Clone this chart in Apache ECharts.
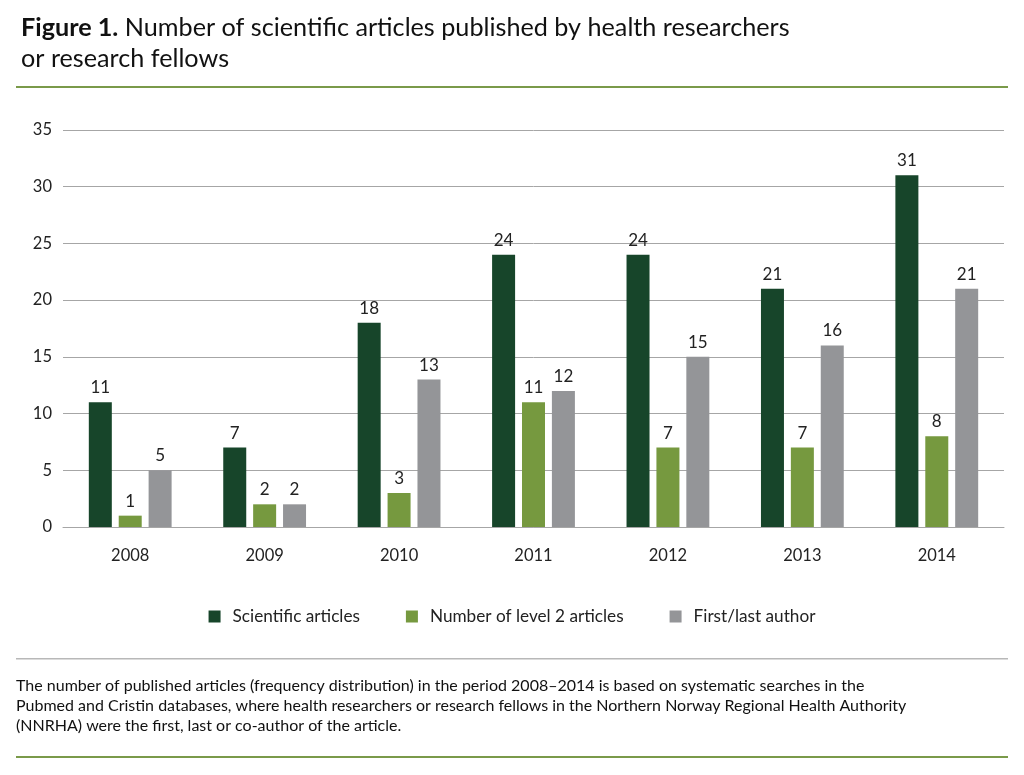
<!DOCTYPE html>
<html><head><meta charset="utf-8">
<script src="https://cdn.jsdelivr.net/npm/echarts@6/dist/echarts.min.js"></script>
<style>html,body{margin:0;padding:0;background:#fff}#c{width:1024px;height:775px}</style>
</head><body><div id="c"></div>
<script>
const categories = ['2008','2009','2010','2011','2012','2013','2014'];
const scientificArticles = [11, 7, 18, 24, 24, 21, 31];
const level2Articles = [1, 2, 3, 11, 7, 7, 8];
const firstLastAuthor = [5, 2, 13, 12, 15, 16, 21];
const seriesNames = ['Scientific articles', 'Number of level 2 articles', 'First/last author'];
const colors = ['#17452a', '#76993f', '#949598'];
const FONT = 'Lato';

const chart = echarts.init(document.getElementById('c'));
const mk = (name, data, color) => ({
  name, type: 'bar', data, barWidth: 23, barGap: '30%',
  itemStyle: { color },
  label: { show: true, position: 'top', distance: 6, color: '#222', fontSize: 17, fontFamily: FONT }
});
chart.setOption({
  animation: false,
  textStyle: { fontFamily: FONT },
  title: {
    left: 16, top: 7,
    text: '{b|Figure 1.} Number of scientific articles published by health researchers\nor research fellows',
    textStyle: {
      fontFamily: FONT, fontSize: 25.2, fontWeight: 'normal', color: '#111', lineHeight: 31,
      rich: { b: { fontFamily: FONT, fontSize: 25.2, fontWeight: 'bold', color: '#111' } }
    }
  },
  grid: { left: 63, right: 20, top: 130, bottom: 248, containLabel: false },
  xAxis: {
    type: 'category', data: categories,
    axisLine: { lineStyle: { color: '#a6a6a6' } }, axisTick: { show: false },
    axisLabel: { color: '#222', fontSize: 16.5, margin: 20, fontFamily: FONT }
  },
  yAxis: {
    type: 'value', min: 0, max: 35, interval: 5,
    axisLine: { show: false }, axisTick: { show: false },
    axisLabel: { color: '#222', fontSize: 16.5, margin: 11, fontFamily: FONT },
    splitLine: { lineStyle: { color: '#a6a6a6', width: 1 } }
  },
  legend: {
    bottom: 145, left: 'center', itemWidth: 12, itemHeight: 12, itemGap: 46,
    icon: 'rect',
    textStyle: { fontSize: 17.2, color: '#222', fontFamily: FONT, padding: [0, 0, 0, 7] },
    data: seriesNames
  },
  series: [
    mk(seriesNames[0], scientificArticles, colors[0]),
    mk(seriesNames[1], level2Articles, colors[1]),
    mk(seriesNames[2], firstLastAuthor, colors[2])
  ],
  graphic: [
    { type: 'rect', shape: { x: 16, y: 86, width: 992, height: 2 }, style: { fill: '#7a9a4a' } },
    { type: 'rect', shape: { x: 16, y: 658, width: 992, height: 1.5 }, style: { fill: '#b8b8b8' } },
    { type: 'rect', shape: { x: 16, y: 756, width: 992, height: 2 }, style: { fill: '#7a9a4a' } },
    { type: 'text', left: 16, top: 676, style: {
      text: 'The number of published articles (frequency distribution) in the period 2008–2014 is based on systematic searches in the\nPubmed and Cristin databases, where health researchers or research fellows in the Northern Norway Regional Health Authority\n(NNRHA) were the first, last or co-author of the article.',
      font: '16px Lato', fill: '#111', lineHeight: 20 } }
  ]
});
</script></body></html>
